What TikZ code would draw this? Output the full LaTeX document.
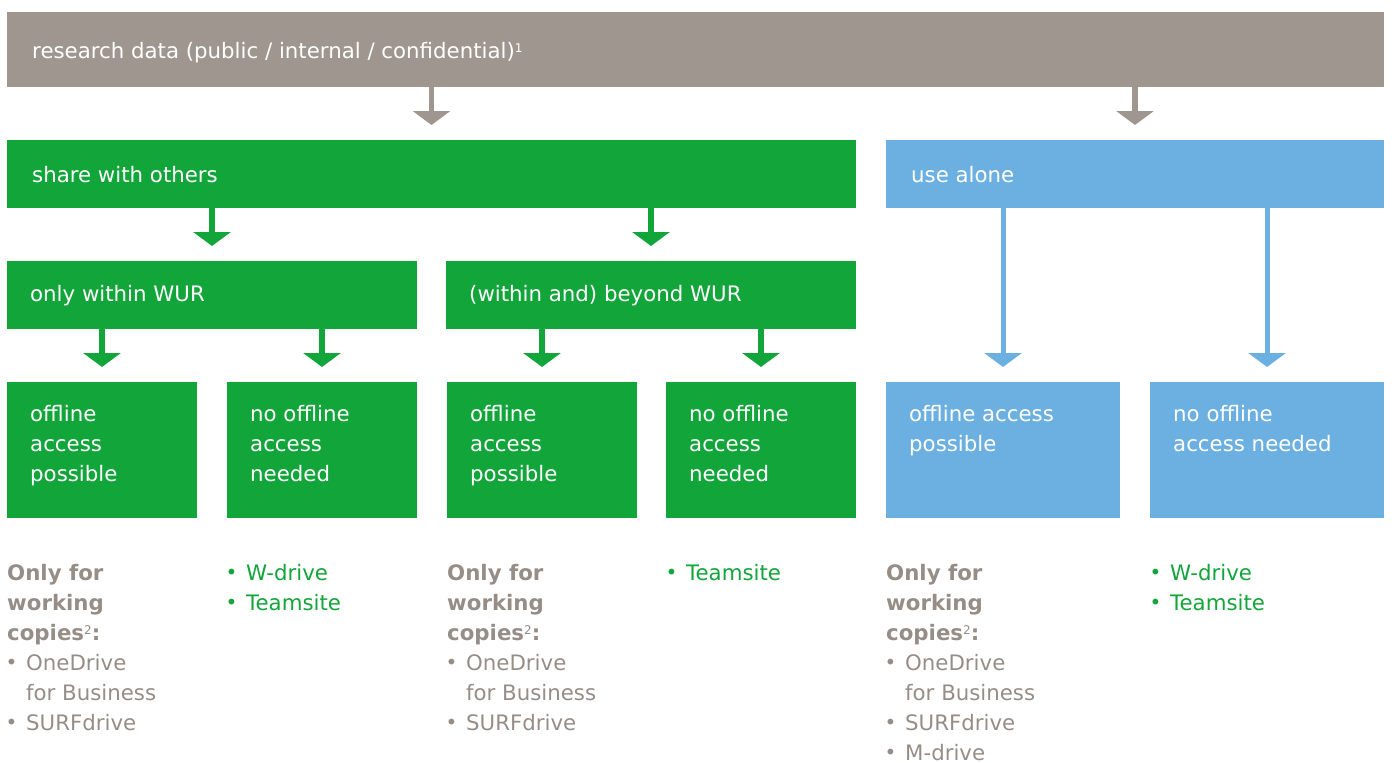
\documentclass[tikz,border=0pt]{standalone}
\usepackage{fontspec}
\setmainfont{DejaVu Sans}
\usetikzlibrary{arrows.meta}
\definecolor{wgray}{RGB}{159,150,143}
\definecolor{wgreen}{RGB}{18,165,58}
\definecolor{wblue}{RGB}{108,176,225}
\definecolor{tgray}{RGB}{150,141,135}
\newcommand{\fs}{\fontsize{21.3}{30}\selectfont}
\newcommand{\bul}{\makebox[19pt][l]{\kern-1.5pt\raisebox{0.5pt}{\fontsize{20}{20}\selectfont•}}}
\newcommand{\ind}{\hspace*{19pt}}
\newcommand{\sups}[1]{\raisebox{6pt}{\fontsize{12}{12}\selectfont\mdseries #1}}
\tikzset{
  box/.style={anchor=north west, inner sep=0pt, outer sep=0pt, minimum height=68pt},
  bigbox/.style={anchor=north west, inner sep=0pt, outer sep=0pt, minimum height=136pt},
  wtxt/.style={anchor=base west, inner sep=0pt, text=white, font=\fs},
  ltxt/.style={anchor=base west, inner sep=0pt},
  arr/.style={line width=5.5pt, -{Triangle[width=37pt,length=14pt]}, shorten >=15pt}
}
\begin{document}
\begin{tikzpicture}[x=1pt,y=-1pt]
\useasboundingbox (0,0) rectangle (1395,763);
% boxes
\node[box, fill=wgray, minimum width=1377pt, minimum height=75pt] (top) at (7,12) {};
\node[box, fill=wgreen, minimum width=849pt] (share) at (7,140) {};
\node[box, fill=wblue, minimum width=498pt] (alone) at (886,140) {};
\node[box, fill=wgreen, minimum width=410pt] (within) at (7,261) {};
\node[box, fill=wgreen, minimum width=410pt] (beyond) at (446,261) {};
\node[bigbox, fill=wgreen, minimum width=190pt] (b1) at (7,382) {};
\node[bigbox, fill=wgreen, minimum width=190pt] (b2) at (227,382) {};
\node[bigbox, fill=wgreen, minimum width=190pt] (b3) at (447,382) {};
\node[bigbox, fill=wgreen, minimum width=190pt] (b4) at (666,382) {};
\node[bigbox, fill=wblue, minimum width=234pt] (b5) at (886,382) {};
\node[bigbox, fill=wblue, minimum width=234pt] (b6) at (1150,382) {};
% box texts
\node[wtxt] (ttop) at (32,58) {research data (public / internal / confidential)\sups{1}};
\node[wtxt] (tshare) at (32,182) {share with others};
\node[wtxt] (talone) at (911,182) {use alone};
\node[wtxt] (twithin) at (30,301) {only within WUR};
\node[wtxt] (tbeyond) at (469,301) {(within and) beyond WUR};
\node[ltxt, text=white] (t1) at (30,421) {\parbox[t]{170pt}{\fs\raggedright offline\\access\\possible}};
\node[ltxt, text=white] (t2) at (250,421) {\parbox[t]{170pt}{\fs\raggedright no offline\\access\\needed}};
\node[ltxt, text=white] (t3) at (470,421) {\parbox[t]{170pt}{\fs\raggedright offline\\access\\possible}};
\node[ltxt, text=white] (t4) at (689,421) {\parbox[t]{170pt}{\fs\raggedright no offline\\access\\needed}};
\node[ltxt, text=white] (t5) at (909,421) {\parbox[t]{210pt}{\fs\raggedright offline access\\possible}};
\node[ltxt, text=white] (t6) at (1173,421) {\parbox[t]{210pt}{\fs\raggedright no offline\\access needed}};
% arrows
\draw[arr, wgray] (top.south -| share.north) -- (share.north);
\draw[arr, wgray] (top.south -| alone.north) -- (alone.north);
\draw[arr, wgreen] (share.south -| within.north) -- (within.north);
\draw[arr, wgreen] (share.south -| beyond.north) -- (beyond.north);
\draw[arr, wgreen] (within.south -| b1.north) -- (b1.north);
\draw[arr, wgreen] (within.south -| b2.north) -- (b2.north);
\draw[arr, wgreen] (beyond.south -| b3.north) -- (b3.north);
\draw[arr, wgreen] (beyond.south -| b4.north) -- (b4.north);
\draw[arr, wblue, line width=5pt] (alone.south -| b5.north) -- (b5.north);
\draw[arr, wblue, line width=5pt] (alone.south -| b6.north) -- (b6.north);
% lower texts
\node[ltxt, text=tgray] (l1) at (7,580) {\parbox[t]{200pt}{\fs\raggedright\textbf{Only for}\\\textbf{working}\\\textbf{copies}\sups{2}\textbf{:}\\\bul OneDrive\\\ind for Business\\\bul SURFdrive}};
\node[ltxt, text=wgreen] (l2) at (227,580) {\parbox[t]{200pt}{\fs\raggedright\bul W-drive\\\bul Teamsite}};
\node[ltxt, text=tgray] (l3) at (447,580) {\parbox[t]{200pt}{\fs\raggedright\textbf{Only for}\\\textbf{working}\\\textbf{copies}\sups{2}\textbf{:}\\\bul OneDrive\\\ind for Business\\\bul SURFdrive}};
\node[ltxt, text=wgreen] (l4) at (667,580) {\parbox[t]{200pt}{\fs\raggedright\bul Teamsite}};
\node[ltxt, text=tgray] (l5) at (886,580) {\parbox[t]{200pt}{\fs\raggedright\textbf{Only for}\\\textbf{working}\\\textbf{copies}\sups{2}\textbf{:}\\\bul OneDrive\\\ind for Business\\\bul SURFdrive\\\bul M-drive}};
\node[ltxt, text=wgreen] (l6) at (1151,580) {\parbox[t]{200pt}{\fs\raggedright\bul W-drive\\\bul Teamsite}};
\end{tikzpicture}
\end{document}
